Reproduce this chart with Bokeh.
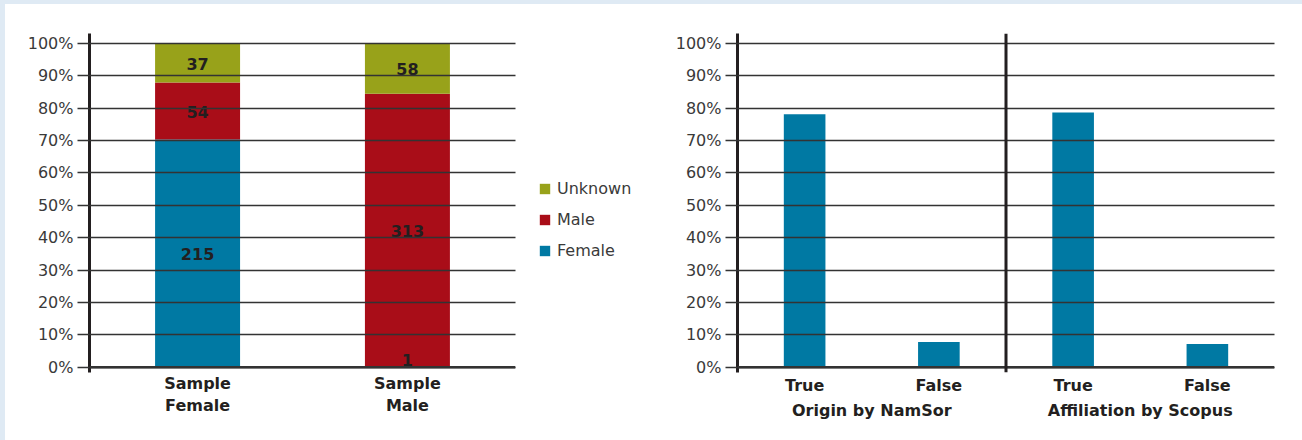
from bokeh.plotting import figure
from bokeh.layouts import row
from bokeh.models import (ColumnDataSource, FactorRange, Range1d, FixedTicker,
                          PrintfTickFormatter, Span, Legend, LegendItem)
from bokeh.core.properties import value
from bokeh.embed import file_html
from bokeh.resources import INLINE

# ---- data -------------------------------------------------------------
samples = ["Sample\nFemale", "Sample\nMale"]
genders = ["Female", "Male", "Unknown"]
female_counts = [215, 1]
male_counts = [54, 313]
unknown_counts = [37, 58]

checks = ["Origin by NamSor", "Affiliation by Scopus"]
outcomes = ["True", "False"]
origin_share = [78.1, 7.8]
affiliation_share = [78.6, 7.2]

pct_ticks = list(range(0, 101, 10))

# ---- styling ----------------------------------------------------------
COLORS = {"Female": "#0079a3", "Male": "#a90d18", "Unknown": "#98a21a"}
BG = "#dfeaf4"
INK = "#231f20"
GRID = "#333333"
FONT = "DejaVu Sans"


def style_pct_axis(p, label_standoff):
    p.y_range = Range1d(-1.6, 103.0)
    ax = p.yaxis[0]
    ax.ticker = FixedTicker(ticks=pct_ticks)
    ax.formatter = PrintfTickFormatter(format="%d%%")
    ax.axis_line_width = 3
    ax.axis_line_color = INK
    ax.major_tick_out = 12
    ax.major_tick_in = 0
    ax.major_tick_line_color = GRID
    ax.major_tick_line_width = 1.3
    ax.minor_tick_line_color = None
    ax.major_label_standoff = 4
    ax.major_label_text_font = FONT
    ax.major_label_text_font_size = "16px"
    ax.major_label_text_color = "#3a3a3a"

    g = p.ygrid[0]
    g.ticker = FixedTicker(ticks=pct_ticks)
    g.grid_line_color = GRID
    g.grid_line_width = 1.3
    g.level = "overlay"
    p.xgrid.grid_line_color = None

    p.add_layout(Span(location=0, dimension="width", line_color=GRID,
                      line_width=2.5, level="overlay"))

    xa = p.xaxis[0]
    xa.axis_line_color = None
    xa.major_tick_line_color = None
    xa.major_tick_out = 0
    xa.major_tick_in = 0
    xa.major_label_standoff = label_standoff
    xa.major_label_text_font = FONT
    xa.major_label_text_font_style = "bold"
    xa.major_label_text_font_size = "16px"
    xa.major_label_text_color = INK
    p.outline_line_color = None
    p.background_fill_color = "white"
    p.border_fill_color = "white"


# ---- left: stacked gender composition ----------------------------------
totals = [f + m + u for f, m, u in zip(female_counts, male_counts, unknown_counts)]
counts = {"Female": female_counts, "Male": male_counts, "Unknown": unknown_counts}
stack_src = ColumnDataSource(dict(
    sample=samples,
    **{g: [100.0 * c / t for c, t in zip(counts[g], totals)] for g in genders}
))
stack_colors = [COLORS[g] for g in genders]

left = figure(x_range=FactorRange(*samples, range_padding=0.015),
              frame_width=426, frame_height=339,
              min_border_left=84, min_border_right=23,
              min_border_top=29, min_border_bottom=68,
              output_backend="svg", toolbar_location=None)
style_pct_axis(left, 1)

left.vbar_stack(genders, x="sample", width=0.405, source=stack_src,
                color=stack_colors, line_color=None)

# segment count labels placed at each segment's middle
lab_x, lab_y, lab_t = [], [], []
for i, s in enumerate(samples):
    base = 0.0
    for g in genders:
        share = stack_src.data[g][i]
        lab_x.append(s)
        lab_y.append(max(base + share / 2.0, 2.6))
        lab_t.append(str(counts[g][i]))
        base += share
left.text(x=lab_x, y=lab_y, text=lab_t, text_align="center",
          text_baseline="middle", y_offset=1, text_font=value(FONT),
          text_font_style="bold", text_font_size="16px", text_color=INK)

# ---- legend strip between the two panels ----------------------------
# swatch-only renderers: one undefined (NaN) row per gender, nothing is drawn
key_src = ColumnDataSource(dict(sample=samples[:1],
                                **{g: [float("nan")] for g in genders}))
key = figure(x_range=FactorRange(*samples), y_range=Range1d(0, 100),
             frame_width=112, frame_height=339,
             min_border_left=0, min_border_right=0,
             min_border_top=29, min_border_bottom=68,
             x_axis_type=None, y_axis_type=None,
             output_backend="svg", toolbar_location=None)
key.outline_line_color = None
key.xgrid.visible = False
key.ygrid.visible = False
key.border_fill_color = "white"
key.background_fill_color = "white"
key_r = key.vbar_stack(genders, x="sample", width=0.405, source=key_src,
                       color=stack_colors, line_color=None)
legend = Legend(items=[LegendItem(label=g, renderers=[key_r[genders.index(g)]])
                       for g in reversed(genders)],
                location=(0, 112), margin=0, padding=0,
                glyph_width=13, glyph_height=13, label_standoff=6,
                label_height=19, spacing=12,
                label_text_font=FONT, label_text_font_size="16px",
                label_text_color="#3a3a3a",
                border_line_color=None, background_fill_alpha=0)
key.add_layout(legend)

# ---- right: verification shares --------------------------------------
factors = [(c, o) for c in checks for o in outcomes]
shares = origin_share + affiliation_share
ver_src = ColumnDataSource(dict(x=factors, share=shares))

right = figure(x_range=FactorRange(*factors, group_padding=0, factor_padding=0,
                                   subgroup_padding=0, range_padding=0),
               frame_width=537, frame_height=339,
               min_border_left=87, min_border_right=28,
               min_border_top=29, min_border_bottom=68,
               output_backend="svg", toolbar_location=None)
style_pct_axis(right, 3)
right.vbar(x="x", top="share", width=0.31, source=ver_src,
           color=COLORS["Female"], line_color=None)
right.add_layout(Span(location=len(outcomes), dimension="height",
                      line_color=INK, line_width=3, level="overlay"))
xa = right.xaxis[0]
xa.separator_line_color = None
xa.group_text_font = FONT
xa.group_text_font_style = "bold"
xa.group_text_font_size = "16px"
xa.group_text_color = INK

page_bg = (f"linear-gradient({BG}, {BG}) top / 100% 4px no-repeat, "
           f"linear-gradient({BG}, {BG}) left / 5px 100% no-repeat, white")
layout = row(left, key, right, styles={"background": page_bg,
                                       "padding-left": "5px", "padding-top": "4px"})

with open("out.html", "w") as f:
    f.write(file_html(layout, INLINE))
